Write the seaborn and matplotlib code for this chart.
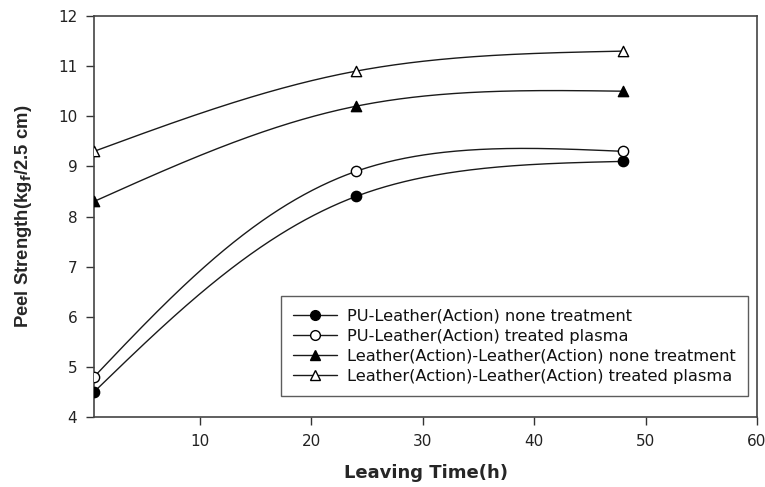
import numpy as np
import pandas as pd
import matplotlib
matplotlib.use("Agg")
import matplotlib.pyplot as plt
import seaborn as sns

# Measured peel strength after leaving time
hours = [0.5, 24, 48]
pu_none = [4.5, 8.4, 9.1]
pu_plasma = [4.8, 8.9, 9.3]
ll_none = [8.3, 10.2, 10.5]
ll_plasma = [9.3, 10.9, 11.3]

labels = [
    "PU-Leather(Action) none treatment",
    "PU-Leather(Action) treated plasma",
    "Leather(Action)-Leather(Action) none treatment",
    "Leather(Action)-Leather(Action) treated plasma",
]
series = [pu_none, pu_plasma, ll_none, ll_plasma]
markers = ["o", "o", "^", "^"]
faces = ["black", "white", "black", "white"]

x_ticks = [10, 20, 30, 40, 50, 60]
y_ticks = [4, 5, 6, 7, 8, 9, 10, 11, 12]


def natural_spline_1d(t, y, ts):
    t = np.asarray(t, float)
    y = np.asarray(y, float)
    k = len(t)
    h = np.diff(t)
    A = np.zeros((k, k))
    b = np.zeros(k)
    A[0, 0] = A[-1, -1] = 1
    for i in range(1, k - 1):
        A[i, i - 1] = h[i - 1]
        A[i, i] = 2 * (h[i - 1] + h[i])
        A[i, i + 1] = h[i]
        b[i] = 6 * ((y[i + 1] - y[i]) / h[i] - (y[i] - y[i - 1]) / h[i - 1])
    M = np.linalg.solve(A, b)
    out = np.empty_like(ts)
    for j, tv in enumerate(ts):
        i = min(np.searchsorted(t, tv, side="right") - 1, k - 2)
        t1 = t[i + 1] - tv
        t0 = tv - t[i]
        out[j] = (M[i] * t1 ** 3 / (6 * h[i]) + M[i + 1] * t0 ** 3 / (6 * h[i])
                  + (y[i] / h[i] - M[i] * h[i] / 6) * t1
                  + (y[i + 1] / h[i] - M[i + 1] * h[i] / 6) * t0)
    return out


def smooth_curve(x, y, sx=11.13, sy=50.1, n=300):
    """Parametric (chord-length) natural spline through the points."""
    x = np.asarray(x, float)
    y = np.asarray(y, float)
    d = np.hypot(np.diff(x) * sx, np.diff(y) * sy)
    t = np.concatenate([[0], np.cumsum(d)])
    ts = np.linspace(0, t[-1], n)
    return natural_spline_1d(t, x, ts), natural_spline_1d(t, y, ts)


sns.set_theme(style="white")
plt.rcParams["font.family"] = ["DejaVu Sans"]

fig = plt.figure(figsize=(7.65, 4.87), dpi=100)
ax = fig.add_axes([0.1229, 0.1437, 0.8667, 0.8234])

for vals, lab, mk, fc in zip(series, labels, markers, faces):
    xs, ys = smooth_curve(hours, vals)
    sns.lineplot(x=xs, y=ys, ax=ax, color="#1a1a1a", linewidth=1.0,
                 estimator=None, sort=False)
    pts = pd.DataFrame({"t": hours, "v": vals})
    sns.scatterplot(data=pts, x="t", y="v", ax=ax, marker=mk, s=55,
                    color=fc, edgecolor="black", linewidth=1.0, zorder=5)

handles = [
    plt.Line2D([], [], color="#1a1a1a", lw=1.0, marker=mk, markersize=7,
               markerfacecolor=fc, markeredgecolor="black")
    for mk, fc in zip(markers, faces)
]
leg = ax.legend(handles, labels, loc="lower right",
                bbox_to_anchor=(0.986, 0.052), frameon=True, fancybox=False,
                edgecolor="#333333", fontsize=11.7, handlelength=2.7,
                handletextpad=0.6, labelspacing=0.32, borderpad=0.75,
                borderaxespad=0)
leg.get_frame().set_linewidth(1.0)
for txt in leg.get_texts():
    txt.set_color("#111111")

ax.set_xlim(0.5, 60)
ax.set_ylim(4, 12)
ax.set_xticks(x_ticks)
ax.set_yticks(y_ticks)
ax.tick_params(axis="both", direction="out", length=6, width=1,
               color="#333333", labelsize=11, bottom=True, left=True,
               labelcolor="#222222", pad=6)
for sp in ax.spines.values():
    sp.set_color("#444444")
    sp.set_linewidth(1.2)

ax.set_xlabel("Leaving Time(h)", fontsize=13, fontweight="bold", labelpad=11)
ax.set_ylabel("Peel Strength(kg$_\\mathbf{f}$/2.5 cm)", fontsize=13.3,
              fontweight="bold", labelpad=17,
              family=["Liberation Sans", "DejaVu Sans"])

fig.savefig("out.png", dpi=100)
